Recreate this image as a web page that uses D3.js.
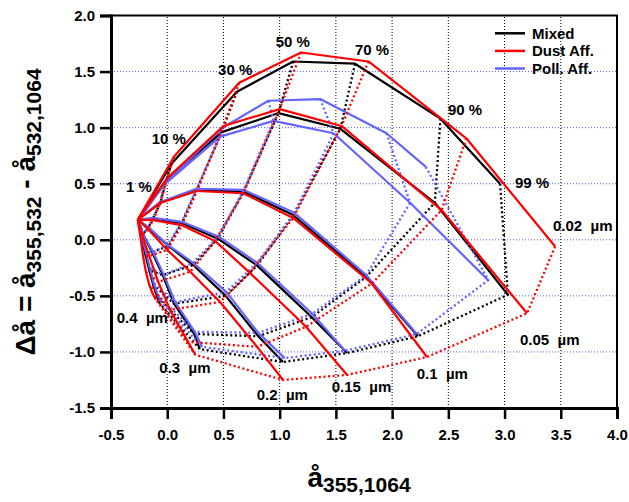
<!DOCTYPE html>
<html>
<head>
<meta charset="utf-8">
<script src="https://cdn.jsdelivr.net/npm/d3@7"></script>
<style>
  body { margin: 0; background: #fff; }
  text { font-family: Arial, "Liberation Sans", sans-serif; font-weight: bold; }
</style>
</head>
<body>
<svg id="chart" width="629" height="502"></svg>
<script>
// fine-mode fraction (eta) and fine-mode radius of each grid node
const etas = [0, 1, 10, 30, 50, 70, 90, 99];
const radii = [0.02, 0.05, 0.1, 0.15, 0.2, 0.3, 0.4];

const xTicks = [-0.5, 0.0, 0.5, 1.0, 1.5, 2.0, 2.5, 3.0, 3.5, 4.0];
const yTicks = [-1.5, -1.0, -0.5, 0.0, 0.5, 1.0, 1.5, 2.0];

// one row per radius, one [x, y] per eta
const mixed = [
  [[-0.26, 0.18], [-0.23, 0.23], [0.04, 0.68], [0.62, 1.32], [1.12, 1.59], [1.67, 1.57], [2.43, 1.08], [2.96, 0.50]],
  [[-0.26, 0.18], [-0.235, 0.215], [-0.01, 0.53], [0.485, 0.96], [0.99, 1.13], [1.54, 0.99], [2.38, 0.33], [3.03, -0.49]],
  [[-0.26, 0.18], [-0.24, 0.195], [-0.06, 0.33], [0.26, 0.44], [0.68, 0.43], [1.12, 0.22], [1.77, -0.33], [2.23, -0.86]],
  [[-0.26, 0.18], [-0.25, 0.18], [-0.13, 0.185], [0.13, 0.15], [0.45, 0.01], [0.80, -0.23], [1.285, -0.69], [1.60, -1.01]],
  [[-0.26, 0.18], [-0.25, 0.17], [-0.17, 0.105], [0.01, -0.055], [0.23, -0.225], [0.52, -0.50], [0.81, -0.86], [1.03, -1.09]],
  [[-0.26, 0.18], [-0.255, 0.17], [-0.215, 0.05], [-0.135, -0.11], [-0.04, -0.315], [0.06, -0.57], [0.24, -0.84], [0.29, -0.975]],
  [[-0.26, 0.18], [-0.26, 0.17], [-0.235, 0.07], [-0.20, -0.11], [-0.16, -0.27], [-0.125, -0.40], [-0.09, -0.51], [-0.065, -0.57]]
];

const dust = [
  [[-0.26, 0.18], [-0.23, 0.235], [0.06, 0.74], [0.64, 1.40], [1.19, 1.67], [1.79, 1.59], [2.66, 0.905], [3.45, -0.06]],
  [[-0.26, 0.18], [-0.235, 0.22], [0.0, 0.55], [0.50, 1.015], [1.00, 1.165], [1.55, 1.015], [2.44, 0.265], [3.20, -0.655]],
  [[-0.26, 0.18], [-0.24, 0.195], [-0.06, 0.33], [0.265, 0.435], [0.675, 0.415], [1.12, 0.195], [1.82, -0.39], [2.31, -1.045]],
  [[-0.26, 0.18], [-0.25, 0.18], [-0.125, 0.175], [0.13, 0.13], [0.425, -0.01], [0.735, -0.295], [1.235, -0.775], [1.60, -1.205]],
  [[-0.26, 0.18], [-0.25, 0.17], [-0.17, 0.095], [0.0, -0.09], [0.205, -0.285], [0.47, -0.555], [0.80, -0.955], [1.03, -1.25]],
  [[-0.26, 0.18], [-0.255, 0.165], [-0.225, 0.045], [-0.16, -0.145], [-0.08, -0.375], [0.025, -0.625], [0.185, -0.91], [0.25, -1.025]],
  [[-0.26, 0.18], [-0.26, 0.165], [-0.24, 0.035], [-0.215, -0.145], [-0.19, -0.285], [-0.16, -0.40], [-0.13, -0.48], [-0.10, -0.535]]
];

const pollution = [
  [[-0.26, 0.18], [-0.235, 0.21], [-0.02, 0.505], [0.485, 0.995], [0.90, 1.24], [1.36, 1.255], [1.95, 0.95], [2.30, 0.65]],
  [[-0.26, 0.18], [-0.235, 0.205], [-0.03, 0.49], [0.47, 0.92], [0.945, 1.06], [1.48, 0.95], [2.16, 0.33], [2.855, -0.36]],
  [[-0.26, 0.18], [-0.24, 0.195], [-0.065, 0.335], [0.26, 0.455], [0.68, 0.445], [1.13, 0.24], [1.77, -0.315], [2.22, -0.84]],
  [[-0.26, 0.18], [-0.25, 0.18], [-0.125, 0.195], [0.13, 0.16], [0.455, 0.03], [0.80, -0.205], [1.29, -0.66], [1.58, -0.99]],
  [[-0.26, 0.18], [-0.25, 0.17], [-0.17, 0.115], [0.005, -0.045], [0.23, -0.205], [0.525, -0.465], [0.81, -0.83], [1.045, -1.055]],
  [[-0.26, 0.18], [-0.255, 0.17], [-0.215, 0.05], [-0.125, -0.11], [-0.03, -0.315], [0.07, -0.555], [0.245, -0.82], [0.31, -0.955]],
  [[-0.26, 0.18], [-0.26, 0.17], [-0.235, 0.07], [-0.19, -0.11], [-0.155, -0.25], [-0.12, -0.385], [-0.085, -0.49], [-0.055, -0.555]]
];

const seriesNames = ['Mixed', 'Dust Aff.', 'Poll. Aff.'];
const seriesColors = ['#000000', '#ff0000', '#6464ff'];

// annotation anchors (data units, left/baseline of the text)
const etaLabels = [
  ['1 %', -0.367, 0.426], ['10 %', -0.138, 0.854], ['30 %', 0.452, 1.469],
  ['50 %', 0.965, 1.722], ['70 %', 1.670, 1.648], ['90 %', 2.497, 1.113],
  ['99 %', 3.093, 0.462]
];
const radiusLabels = [
  ['0.02  µm', 3.431, 0.078], ['0.05  µm', 3.137, -0.939], ['0.1  µm', 2.219, -1.241],
  ['0.15  µm', 1.463, -1.353], ['0.2  µm', 0.796, -1.429], ['0.3  µm', -0.070, -1.184],
  ['0.4  µm', -0.449, -0.742]
];

const svg = d3.select('#chart');
const x = d3.scaleLinear().domain([-0.5, 4.0]).range([111, 617]);
const y = d3.scaleLinear().domain([-1.5, 2.0]).range([408, 15.5]);

// grid
svg.append('g')
  .selectAll('line')
  .data(xTicks.slice(1, -1))
  .join('line')
  .attr('x1', d => x(d)).attr('x2', d => x(d))
  .attr('y1', y(-1.5)).attr('y2', y(2.0))
  .attr('stroke', '#000')
  .attr('stroke-width', 1)
  .attr('stroke-dasharray', '1,2');

svg.append('g')
  .selectAll('line')
  .data(yTicks.slice(1, -1))
  .join('line')
  .attr('x1', x(-0.5)).attr('x2', x(4.0))
  .attr('y1', d => y(d)).attr('y2', d => y(d))
  .attr('stroke', '#5a5aff')
  .attr('stroke-width', 1)
  .attr('stroke-dasharray', '1,2');

// grid of curves: solid = constant radius, dotted = constant eta
let lineFunction = d3.line()
  .x(d => x(d[0]))
  .y(d => y(d[1]));

const drawOrder = [0, 2, 1];
drawOrder.forEach(k => {
  const set = [mixed, dust, pollution][k];
  const g = svg.append('g').attr('fill', 'none').attr('stroke', seriesColors[k]);

  for (let j = 1; j < etas.length; j++) {
    const pts = set.map(row => row[j]);
    g.append('path')
      .attr('d', lineFunction(pts))
      .attr('stroke-width', 2.3)
      .attr('stroke-dasharray', '2,2.6');
  }

  set.forEach(row => {
    g.append('path')
      .attr('d', lineFunction(row))
      .attr('stroke-width', 2.2)
      .attr('stroke-linejoin', 'round');
  });
});

// frame
svg.append('rect')
  .attr('x', x(-0.5)).attr('y', y(2.0))
  .attr('width', x(4.0) - x(-0.5)).attr('height', y(-1.5) - y(2.0))
  .attr('fill', 'none').attr('stroke', '#000').attr('stroke-width', 2);

// axes
const xAxis = d3.axisBottom(x).tickValues(xTicks).tickSize(11).tickPadding(10)
  .tickFormat(d3.format('.1f'));
const yAxis = d3.axisLeft(y).tickValues(yTicks).tickSize(11).tickPadding(5)
  .tickFormat(d3.format('.1f'));

const gx = svg.append('g').attr('transform', `translate(0,${y(-1.5)})`).call(xAxis);
const gy = svg.append('g').attr('transform', `translate(${x(-0.5)},0)`).call(yAxis);
[gx, gy].forEach(g => {
  g.select('.domain').attr('stroke-width', 3);
  g.selectAll('.tick line').attr('stroke-width', 2.5);
  g.selectAll('.tick text')
    .attr('font-size', 15)
    .attr('font-family', 'Arial, "Liberation Sans", sans-serif')
    .attr('font-weight', 'bold')
    .attr('fill', '#000');
});
gx.selectAll('.tick text').text(d => d3.format('.1f')(d).replace('−', '-'));
gy.selectAll('.tick text').text(d => d3.format('.1f')(d).replace('−', '-'));

// annotations
svg.append('g')
  .selectAll('text')
  .data(etaLabels.concat(radiusLabels))
  .join('text')
  .attr('x', d => x(d[1]))
  .attr('y', d => y(d[2]))
  .attr('font-size', 15)
  .style('white-space', 'pre')
  .text(d => d[0]);

// legend
const legend = svg.append('g');
seriesNames.forEach((name, i) => {
  legend.append('line')
    .attr('x1', 495).attr('x2', 525)
    .attr('y1', 33.3 + i * 17.6).attr('y2', 33.3 + i * 17.6)
    .attr('stroke', seriesColors[i]).attr('stroke-width', 2.5);
  legend.append('text')
    .attr('x', 532).attr('y', 38.8 + i * 17.6)
    .attr('font-size', 15)
    .text(name);
});

// axis titles
const xt = svg.append('text').attr('x', 359).attr('y', 487).attr('text-anchor', 'middle');
xt.append('tspan').attr('font-size', 28).text('å');
xt.append('tspan').attr('font-size', 21).attr('dy', 5).text('355,1064');

const yt = svg.append('text')
  .attr('transform', 'translate(35,212) rotate(-90)')
  .attr('text-anchor', 'middle');
yt.append('tspan').attr('font-size', 28).text('Δå = å');
yt.append('tspan').attr('font-size', 21).attr('dy', 6).text('355,532');
yt.append('tspan').attr('font-size', 28).attr('dy', -6).text(' - å');
yt.append('tspan').attr('font-size', 21).attr('dy', 6).text('532,1064');
</script>
</body>
</html>
